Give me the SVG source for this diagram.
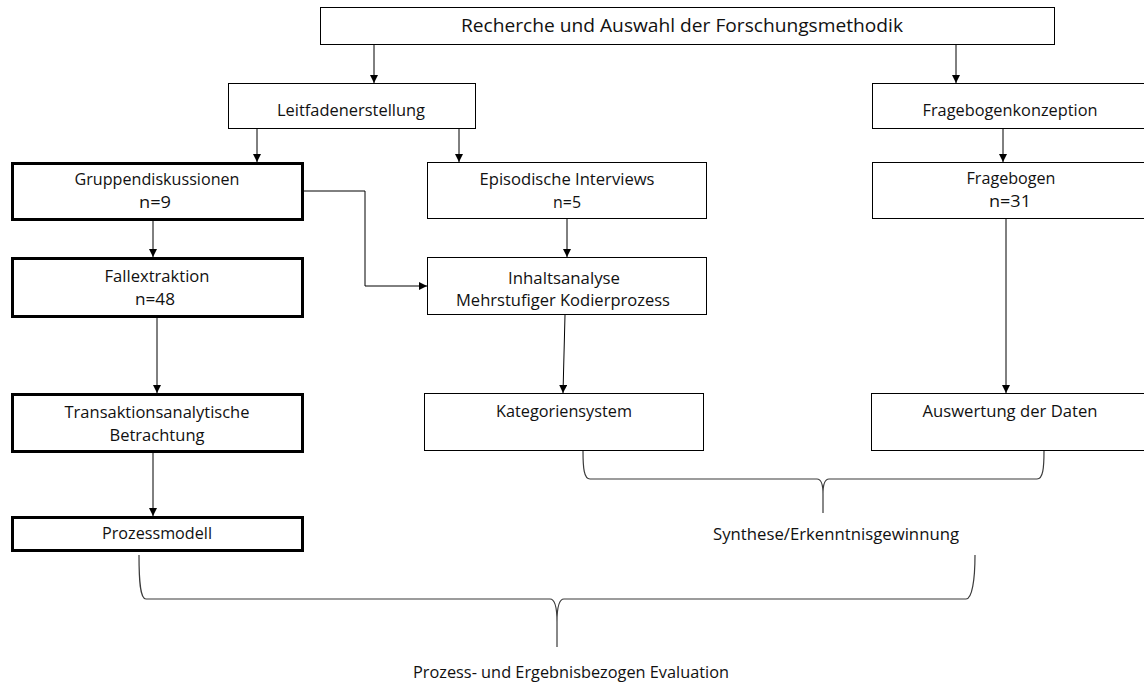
<svg xmlns="http://www.w3.org/2000/svg" width="1144" height="684" viewBox="0 0 1144 684">
  <defs>
    <marker id="arrow" viewBox="0 0 10 10" refX="10" refY="5" markerWidth="8" markerHeight="8" markerUnits="userSpaceOnUse" orient="auto">
      <path d="M0,0 L10,5 L0,10 Z" fill="#000"/>
    </marker>
    <style>
      .box { fill: #fff; stroke: #000; stroke-width: 1; }
      .bold { fill: #fff; stroke: #000; stroke-width: 3; }
      .lbl { font-family: "Open Sans", "Noto Sans", "Liberation Sans", sans-serif; font-size: 15.5px; fill: #111; text-anchor: middle; }
      .title { font-size: 18px; }
      .edge { fill: none; stroke: #000; stroke-width: 1; marker-end: url(#arrow); }
      .brace { fill: none; stroke: #3a3a3a; stroke-width: 1.2; }
    </style>
  </defs>
  <rect width="1144" height="684" fill="#fff"/>

  <!-- connectors -->
  <g id="connectors">
    <path class="edge" d="M374,45 L374,83"/>
    <path class="edge" d="M956,45 L956,83"/>
    <path class="edge" d="M257,129 L257,162"/>
    <path class="edge" d="M459,129 L459,162"/>
    <path class="edge" d="M1003,129 L1003,162"/>
    <path class="edge" d="M153,221 L153,257"/>
    <path class="edge" d="M304,191 L365,191 L365,286 L427,286"/>
    <path class="edge" d="M567,219 L567,257"/>
    <path class="edge" d="M157,318 L157,393"/>
    <path class="edge" d="M565,315 L563,393"/>
    <path class="edge" d="M1006,219 L1006,393"/>
    <path class="edge" d="M153,453 L153,516"/>
  </g>

  <!-- nodes -->
  <g id="recherche">
    <rect class="box" x="320.5" y="7.5" width="734" height="37"/>
    <text class="lbl title" x="682" y="32" textLength="442" lengthAdjust="spacingAndGlyphs">Recherche und Auswahl der Forschungsmethodik</text>
  </g>
  <g id="leitfaden">
    <rect class="box" x="228.5" y="83.5" width="247" height="45"/>
    <text class="lbl" x="351" y="116" textLength="148" lengthAdjust="spacingAndGlyphs">Leitfadenerstellung</text>
  </g>
  <g id="fragebogenkonzeption">
    <rect class="box" x="872.5" y="83.5" width="280" height="45"/>
    <text class="lbl" x="1010" y="116" textLength="175" lengthAdjust="spacingAndGlyphs">Fragebogenkonzeption</text>
  </g>
  <g id="gruppendiskussionen">
    <rect class="bold" x="12.5" y="163.5" width="290" height="56"/>
    <text class="lbl" x="157" y="185" textLength="165" lengthAdjust="spacingAndGlyphs">Gruppendiskussionen</text>
    <text class="lbl" x="155" y="208" textLength="32" lengthAdjust="spacingAndGlyphs">n=9</text>
  </g>
  <g id="episodische">
    <rect class="box" x="427.5" y="162.5" width="279" height="56"/>
    <text class="lbl" x="567" y="185" textLength="175" lengthAdjust="spacingAndGlyphs">Episodische Interviews</text>
    <text class="lbl" x="567" y="208" textLength="28" lengthAdjust="spacingAndGlyphs">n=5</text>
  </g>
  <g id="fragebogen">
    <rect class="box" x="872.5" y="162.5" width="280" height="56"/>
    <text class="lbl" x="1011" y="184" textLength="89" lengthAdjust="spacingAndGlyphs">Fragebogen</text>
    <text class="lbl" x="1010" y="207" textLength="42" lengthAdjust="spacingAndGlyphs">n=31</text>
  </g>
  <g id="fallextraktion">
    <rect class="bold" x="12.5" y="258.5" width="290" height="58"/>
    <text class="lbl" x="157" y="282" textLength="105" lengthAdjust="spacingAndGlyphs">Fallextraktion</text>
    <text class="lbl" x="155" y="305" textLength="40" lengthAdjust="spacingAndGlyphs">n=48</text>
  </g>
  <g id="inhaltsanalyse">
    <rect class="box" x="427.5" y="257.5" width="279" height="57"/>
    <text class="lbl" x="564" y="284" textLength="112" lengthAdjust="spacingAndGlyphs">Inhaltsanalyse</text>
    <text class="lbl" x="563" y="306" textLength="214" lengthAdjust="spacingAndGlyphs">Mehrstufiger Kodierprozess</text>
  </g>
  <g id="transaktionsanalyse">
    <rect class="bold" x="12.5" y="394.5" width="290" height="57"/>
    <text class="lbl" x="157" y="418" textLength="185" lengthAdjust="spacingAndGlyphs">Transaktionsanalytische</text>
    <text class="lbl" x="157" y="441" textLength="95" lengthAdjust="spacingAndGlyphs">Betrachtung</text>
  </g>
  <g id="kategoriensystem">
    <rect class="box" x="424.5" y="393.5" width="279" height="57"/>
    <text class="lbl" x="564" y="417" textLength="136" lengthAdjust="spacingAndGlyphs">Kategoriensystem</text>
  </g>
  <g id="auswertung">
    <rect class="box" x="871.5" y="393.5" width="280" height="57"/>
    <text class="lbl" x="1010" y="417" textLength="175" lengthAdjust="spacingAndGlyphs">Auswertung der Daten</text>
  </g>
  <g id="prozessmodell">
    <rect class="bold" x="12.5" y="517.5" width="290" height="33"/>
    <text class="lbl" x="157" y="539" textLength="110" lengthAdjust="spacingAndGlyphs">Prozessmodell</text>
  </g>

  <!-- synthesis brace -->
  <g id="synthese">
    <path class="brace" d="M583,451 C583,468 584,479 590,479 L817,479 C821,479 823,484 823,494 L823,513 M1044,451 C1044,468 1043,479 1037,479 L829,479 C825,479 823,484 823,494"/>
    <text class="lbl" x="836" y="540" textLength="246" lengthAdjust="spacingAndGlyphs">Synthese/Erkenntnisgewinnung</text>
  </g>

  <!-- evaluation brace -->
  <g id="evaluation">
    <path class="brace" d="M139,555 C139,580 140,599 146,599 L550,599 C555,599 557,606 557,622 L557,647 M975,555 C975,580 972,599 966,599 L564,599 C559,599 557,606 557,622"/>
    <text class="lbl" x="571" y="678" textLength="316" lengthAdjust="spacingAndGlyphs">Prozess- und Ergebnisbezogen Evaluation</text>
  </g>
</svg>
